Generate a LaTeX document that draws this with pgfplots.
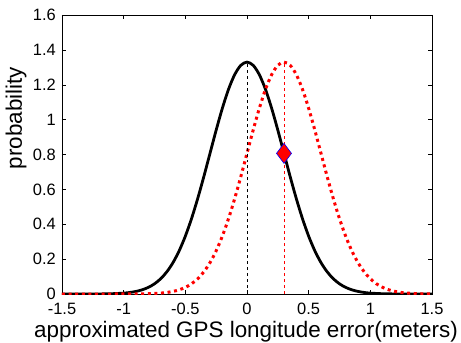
\documentclass[border=0pt]{standalone}
\usepackage{fontspec}
\setmainfont{Liberation Sans}
\usepackage{pgfplots}
\pgfplotsset{compat=1.18}
\usetikzlibrary{calc}
\begin{document}
\begin{tikzpicture}
\begin{axis}[
  scale only axis,
  width=370bp, height=279bp,
  xmin=-1.5, xmax=1.5, ymin=0, ymax=1.6,
  xtick={-1.5,-1,-0.5,0,0.5,1,1.5},
  xticklabels={-1.5,-1,-0.5,0,0.5,1,1.5},
  ytick={0,0.2,0.4,0.6,0.8,1,1.2,1.4,1.6},
  yticklabels={0,0.2,0.4,0.6,0.8,1,1.2,1.4,1.6},
  tick align=inside,
  major tick length=4bp,
  tick style={black, line width=0.5pt},
  axis line style={line width=0.8pt},
  ticklabel style={font=\fontsize{16.5}{16.5}\selectfont},
  xticklabel style={anchor=base, yshift=-20bp},
  yticklabel style={anchor=east, inner sep=0pt, xshift=-6bp},
  xlabel={approximated GPS longitude error(meters)},
  ylabel={probability},
  label style={font=\fontsize{22.5}{22.5}\selectfont},
  xlabel style={at={($(axis description cs:0.5,0)+(-1bp,-43bp)$)}, anchor=base},
  ylabel style={at={($(axis description cs:0,0.63)+(-40bp,0)$)}, anchor=base},
  clip=true,
]
\coordinate (SW) at (rel axis cs:0,0);
\addplot[black, line width=2.8pt, smooth] coordinates {
(-1.5,0) (-1.4,0) (-1.3,0.0001) (-1.2,0.0004) (-1.1,0.0016) (-1.0,0.0051)
(-0.95,0.0088) (-0.9,0.0148) (-0.85,0.0240) (-0.8,0.0380) (-0.75,0.0584)
(-0.7,0.0874) (-0.65,0.1272) (-0.6,0.1800) (-0.55,0.2477) (-0.5,0.3316)
(-0.45,0.4317) (-0.4,0.5467) (-0.35,0.6733) (-0.3,0.8066) (-0.25,0.9397)
(-0.2,1.0648) (-0.15,1.1735) (-0.1,1.2579) (-0.05,1.3115) (0,1.3298)
(0.05,1.3115) (0.1,1.2579) (0.15,1.1735) (0.2,1.0648) (0.25,0.9397)
(0.3,0.8066) (0.35,0.6733) (0.4,0.5467) (0.45,0.4317) (0.5,0.3316)
(0.55,0.2477) (0.6,0.1800) (0.65,0.1272) (0.7,0.0874) (0.75,0.0584)
(0.8,0.0380) (0.85,0.0240) (0.9,0.0148) (0.95,0.0088) (1.0,0.0051)
(1.1,0.0016) (1.2,0.0004) (1.3,0.0001) (1.4,0) (1.5,0)
};
\addplot[red, line width=3bp, dash pattern=on 3bp off 3.6bp, smooth] coordinates {
(-1.5,0) (-1.3,0) (-1.1,0) (-1.0,0.0001) (-0.9,0.0004) (-0.8,0.0016) (-0.7,0.0051)
(-0.65,0.0088) (-0.6,0.0148) (-0.55,0.0240) (-0.5,0.0380) (-0.45,0.0584)
(-0.4,0.0874) (-0.35,0.1272) (-0.3,0.1800) (-0.25,0.2477) (-0.2,0.3316)
(-0.15,0.4317) (-0.1,0.5467) (-0.05,0.6733) (0,0.8066) (0.05,0.9397)
(0.1,1.0648) (0.15,1.1735) (0.2,1.2579) (0.25,1.3115) (0.3,1.3298)
(0.35,1.3115) (0.4,1.2579) (0.45,1.1735) (0.5,1.0648) (0.55,0.9397)
(0.6,0.8066) (0.65,0.6733) (0.7,0.5467) (0.75,0.4317) (0.8,0.3316)
(0.85,0.2477) (0.9,0.1800) (0.95,0.1272) (1.0,0.0874) (1.05,0.0584)
(1.1,0.0380) (1.15,0.0240) (1.2,0.0148) (1.25,0.0088) (1.3,0.0051)
(1.4,0.0016) (1.5,0.0004)
};
\addplot[black, dashed, line width=0.9pt] coordinates {(0,0) (0,1.3298)};
\addplot[red, dashed, line width=1pt] coordinates {(0.3,0) (0.3,1.3298)};
\addplot[only marks, mark=diamond*, mark size=10bp, mark options={fill=red, draw=blue, line width=0.6pt}] coordinates {(0.3,0.8066)};
\end{axis}
\pgfresetboundingbox
\path (SW) ++(-62bp,-49bp) rectangle ++(461bp,343bp);
\end{tikzpicture}
\end{document}
